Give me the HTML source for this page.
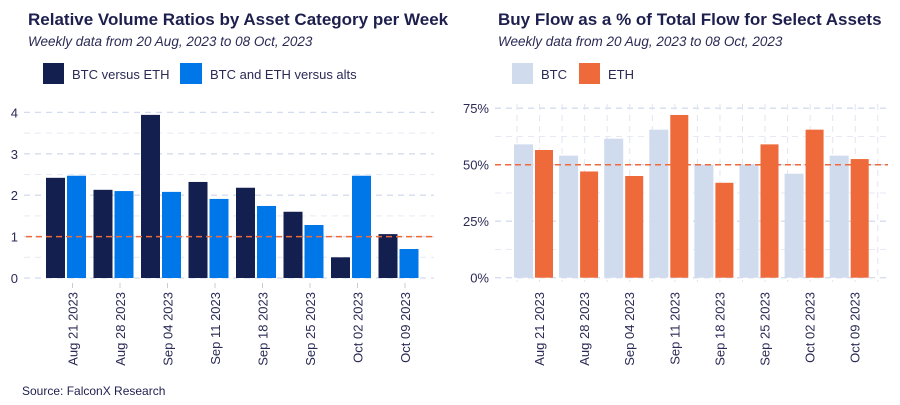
<!DOCTYPE html>
<html><head><meta charset="utf-8"><style>
body{margin:0;background:#fff;width:900px;height:400px;overflow:hidden}
svg{font-family:"Liberation Sans",sans-serif}
</style></head><body>
<svg id="s" width="900" height="400">
<text x="28" y="25" font-size="17" font-weight="bold" fill="#1d1f4e">Relative Volume Ratios by Asset Category per Week</text>
<text x="28" y="46" font-size="13.5" font-style="italic" fill="#2a2a55">Weekly data from 20 Aug, 2023 to 08 Oct, 2023</text>
<rect x="43" y="63" width="21" height="21" fill="#121f4f"/>
<text x="72" y="79" font-size="13" fill="#2a2a55">BTC versus ETH</text>
<rect x="180" y="63" width="22" height="21" fill="#0077e8"/>
<text x="210" y="79" font-size="13" fill="#2a2a55">BTC and ETH versus alts</text>
<text x="498" y="25" font-size="17" font-weight="bold" fill="#1d1f4e">Buy Flow as a % of Total Flow for Select Assets</text>
<text x="498" y="46" font-size="13.5" font-style="italic" fill="#2a2a55">Weekly data from 20 Aug, 2023 to 08 Oct, 2023</text>
<rect x="512" y="63" width="21" height="21" fill="#d0dbee"/>
<text x="541" y="79" font-size="13" fill="#2a2a55">BTC</text>
<rect x="579" y="63" width="21" height="21" fill="#ef6a3b"/>
<text x="608" y="79" font-size="13" fill="#2a2a55">ETH</text>
<text x="22" y="395" font-size="12" fill="#1d1f4e">Source: FalconX Research</text>
<g id="L"></g><g id="R"></g>
</svg>
<script>
const weeks=["Aug 21 2023","Aug 28 2023","Sep 04 2023","Sep 11 2023","Sep 18 2023","Sep 25 2023","Oct 02 2023","Oct 09 2023"];
const btcEth=[2.42,2.13,3.94,2.32,2.18,1.6,0.5,1.06];
const btcEthAlts=[2.47,2.1,2.08,1.91,1.74,1.28,2.47,0.7];
const leftTicks=[0,1,2,3,4];
const btcBuy=[59,54,61.5,65.5,50,50,46,54];
const ethBuy=[56.5,47,45,72,42,59,65.5,52.5];
const rightTicks=[0,25,50,75];
const NS="http://www.w3.org/2000/svg";
function mk(p,t,a){const e=document.createElementNS(NS,t);for(const k in a)e.setAttribute(k,a[k]);p.appendChild(e);return e;}
// left
const L=document.getElementById('L');
const ly=v=>278-v*41.4;
const lx=i=>46+i*47.5;
for(let v=0;v<=4.01;v+=0.5){const g=mk(L,'line',{x1:24,x2:434,y1:ly(v),y2:ly(v),stroke:Number.isInteger(v)?'#d6dcef':'#e6e9f3','stroke-width':Number.isInteger(v)?1.3:1,'stroke-dasharray':'6 5'});

}
leftTicks.forEach(v=>{const t=mk(L,'text',{x:18,y:ly(v)+5,'font-size':13,fill:'#2a2a55','text-anchor':'end'});t.textContent=v;

});
btcEth.forEach((v,i)=>{const r=mk(L,'rect',{x:lx(i),y:ly(v),width:19,height:278-ly(v),fill:'#121f4f'});

});
btcEthAlts.forEach((v,i)=>{const r=mk(L,'rect',{x:lx(i)+21,y:ly(v),width:19,height:278-ly(v),fill:'#0077e8'});

});
const rl=mk(L,'line',{x1:26,x2:432,y1:ly(1),y2:ly(1),stroke:'#ef6a3b','stroke-width':1.5,'stroke-dasharray':'6 4'});


weeks.forEach((w,i)=>{const x=lx(i)+26.5;const tk=mk(L,'line',{x1:x,x2:x,y1:283,y2:288,stroke:'#ccc'});


const t=mk(L,'text',{x:0,y:0,'font-size':13,fill:'#2a2a55','text-anchor':'end',transform:`translate(${x+5},292) rotate(-90)`});t.textContent=w;

});
// right
const R=document.getElementById('R');
const ry=v=>277.7-v*2.26;
const rx=i=>514+i*45.1;
for(let v=0;v<=75;v+=12.5){const g=mk(R,'line',{x1:495,x2:888,y1:ry(v),y2:ry(v),stroke:v%25===0?'#d6dcef':'#e6e9f3','stroke-width':v%25===0?1.3:1,'stroke-dasharray':'6 5'});

}
for(let k=0;k<17;k++){const x=517+k*22.55;const g=mk(R,'line',{x1:x,x2:x,y1:104,y2:282,stroke:'#e1e5f2','stroke-dasharray':'6 5'});

}
rightTicks.forEach(v=>{const t=mk(R,'text',{x:489,y:ry(v)+5,'font-size':13,fill:'#2a2a55','text-anchor':'end'});t.textContent=v+'%';

});
btcBuy.forEach((v,i)=>{const r=mk(R,'rect',{x:rx(i),y:ry(v),width:19,height:277.7-ry(v),fill:'#d0dbee'});

});
ethBuy.forEach((v,i)=>{const r=mk(R,'rect',{x:rx(i)+21,y:ry(v),width:18,height:277.7-ry(v),fill:'#ef6a3b'});

});
const rr=mk(R,'line',{x1:495,x2:888,y1:ry(50),y2:ry(50),stroke:'#ef6a3b','stroke-width':1.5,'stroke-dasharray':'6 4'});


weeks.forEach((w,i)=>{const x=rx(i)+25;const t=mk(R,'text',{x:0,y:0,'font-size':13,fill:'#2a2a55','text-anchor':'end',transform:`translate(${x+5},292) rotate(-90)`});t.textContent=w;

});
</script>
</body></html>
